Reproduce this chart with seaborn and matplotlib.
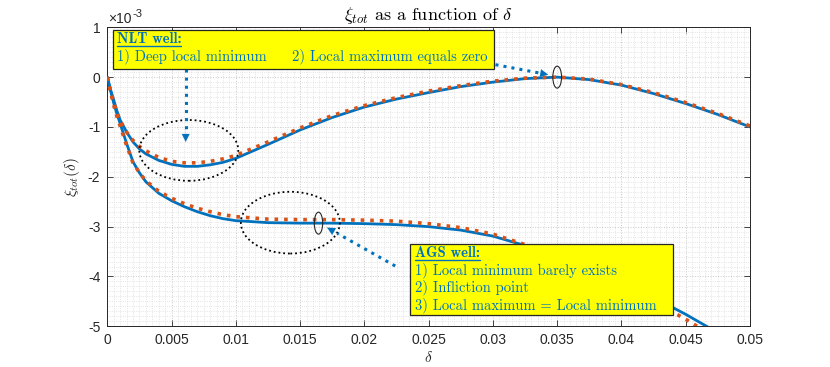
import numpy as np
import pandas as pd
import matplotlib
matplotlib.use('Agg')
import matplotlib.pyplot as plt
import seaborn as sns
from matplotlib.patches import Ellipse, Rectangle
from matplotlib.lines import Line2D
from matplotlib.ticker import MultipleLocator

# ==================================================================================================

# delta values and xi_tot (in units of 1e-3)
delta = [0, 0.00025, 0.0005, 0.00075, 0.001, 0.0015, 0.002, 0.0025, 0.003, 0.004, 0.005,
         0.006, 0.007, 0.008, 0.009, 0.010, 0.0125, 0.015, 0.0175, 0.020, 0.0225, 0.025,
         0.0275, 0.030, 0.0325, 0.035, 0.0375, 0.040, 0.0425, 0.045, 0.0475, 0.050]

nlt_exact = [0, -0.25, -0.46, -0.68, -0.86, -1.10, -1.30, -1.44, -1.54, -1.67, -1.75,
             -1.79, -1.79, -1.76, -1.71, -1.63, -1.35, -1.06, -0.81, -0.60, -0.44, -0.31,
             -0.19, -0.10, -0.03, 0.0, -0.05, -0.16, -0.33, -0.53, -0.75, -1.0]
nlt_approx = [0, -0.28, -0.50, -0.71, -0.88, -1.10, -1.27, -1.39, -1.48, -1.61, -1.69,
              -1.72, -1.72, -1.69, -1.64, -1.57, -1.30, -1.02, -0.77, -0.57, -0.41, -0.28,
              -0.17, -0.08, -0.02, 0.0, -0.04, -0.15, -0.31, -0.51, -0.73, -0.98]

ags_exact = [0, -0.27, -0.52, -0.74, -0.93, -1.33, -1.70, -1.92, -2.10, -2.33, -2.48,
             -2.60, -2.70, -2.78, -2.84, -2.88, -2.92, -2.93, -2.93, -2.94, -2.96, -3.00,
             -3.07, -3.19, -3.38, -3.60, -3.85, -4.12, -4.42, -4.76, -5.13, -5.55]
ags_approx = [0, -0.30, -0.56, -0.79, -0.98, -1.37, -1.72, -1.92, -2.08, -2.29, -2.43,
              -2.54, -2.63, -2.70, -2.76, -2.80, -2.85, -2.86, -2.86, -2.87, -2.89, -2.94,
              -3.02, -3.15, -3.36, -3.60, -3.87, -4.17, -4.50, -4.86, -5.25, -5.68]

xticks = [0, 0.005, 0.01, 0.015, 0.02, 0.025, 0.03, 0.035, 0.04, 0.045, 0.05]
xtick_labels = ['0', '0.005', '0.01', '0.015', '0.02', '0.025', '0.03', '0.035', '0.04', '0.045', '0.05']
yticks = [-5, -4, -3, -2, -1, 0, 1]

# ==================================================================================================

sns.set_style('ticks')
plt.rcParams['font.family'] = ['Liberation Sans', 'DejaVu Sans']
plt.rcParams['mathtext.fontset'] = 'cm'
plt.rcParams['axes.unicode_minus'] = False

BLUE = '#0072BD'
RED = '#D95319'
DARK = '#262626'

df = pd.DataFrame({'delta': delta, 'nlt_exact': nlt_exact, 'nlt_approx': nlt_approx,
                   'ags_exact': ags_exact, 'ags_approx': ags_approx})

W, H = 830, 367
fig = plt.figure(figsize=(W / 100, H / 100), dpi=100)
ax = fig.add_axes([107.3 / W, 1 - 326.3 / H, (750 - 107.3) / W, (326.3 - 27.3) / H])

sns.lineplot(data=df, x='delta', y='nlt_exact', ax=ax, color=BLUE, lw=2, zorder=3)
sns.lineplot(data=df, x='delta', y='ags_exact', ax=ax, color=BLUE, lw=2, zorder=3)
sns.lineplot(data=df, x='delta', y='nlt_approx', ax=ax, color=RED, lw=2.6, linestyle=':', zorder=4)
sns.lineplot(data=df, x='delta', y='ags_approx', ax=ax, color=RED, lw=2.6, linestyle=':', zorder=4)

ax.set_xlim(0, 0.05)
ax.set_ylim(-5, 1)
ax.set_xticks(xticks)
ax.set_xticklabels(xtick_labels)
ax.set_yticks(yticks)
ax.xaxis.set_minor_locator(MultipleLocator(0.0005))
ax.yaxis.set_minor_locator(MultipleLocator(0.1))
ax.tick_params(which='major', direction='in', length=4, width=0.6, colors=DARK,
               labelsize=10, top=True, right=True, pad=5)
ax.tick_params(which='minor', length=0, top=True, right=True)
ax.grid(which='major', color='#c8c8c8', linestyle=':', lw=0.7)
ax.grid(which='minor', color='#dcdcdc', linestyle=':', lw=0.6)
for sp in ax.spines.values():
    sp.set_color(DARK)
    sp.set_linewidth(0.7)

ax.set_xlabel(r'$\delta$', fontsize=11, color=DARK, labelpad=2)
ax.set_ylabel(r'$\xi_{tot}(\delta)$', fontsize=11, color=DARK, labelpad=4)
ax.set_title(r'$\xi_{tot}$ as a function of $\delta$', fontsize=13, family='cmr10',
             color='black', pad=5)

# x10^-3 factor
fig.text(108 / W, 1 - 23 / H, '×10', fontsize=10, color=DARK, va='baseline')
fig.text(132 / W, 1 - 17 / H, '-3', fontsize=8, color=DARK, va='baseline')

# ellipses
ax.add_patch(Ellipse((0.00634, -1.47), 0.0077, 1.22, fill=False, ls=':', lw=1.3, color='black', zorder=5))
ax.add_patch(Ellipse((0.01424, -2.92), 0.0077, 1.24, fill=False, ls=':', lw=1.3, color='black', zorder=5))
ax.add_patch(Ellipse((0.01643, -2.93), 0.00065, 0.44, fill=False, lw=0.8, color=DARK, zorder=5))
ax.add_patch(Ellipse((0.03500, 0.0), 0.00068, 0.44, fill=False, lw=0.8, color=DARK, zorder=5))

# arrows (dotted shaft + filled head)
arrows = [((0.0061, 0.16), (0.0061, -1.30)),
          ((0.0302, 0.25), (0.0343, 0.05)),
          ((0.0224, -3.79), (0.0171, -3.02))]
for (x0, y0), (x1, y1) in arrows:
    ax.plot([x0, x0 + 0.85 * (x1 - x0)], [y0, y0 + 0.85 * (y1 - y0)], color=BLUE, lw=2.2,
            ls=':', zorder=6)
    ax.annotate('', xy=(x1, y1), xytext=(x0 + 0.8 * (x1 - x0), y0 + 0.8 * (y1 - y0)),
                arrowprops=dict(arrowstyle='-|>', color=BLUE, lw=0.1, mutation_scale=14,
                                shrinkA=0, shrinkB=0), zorder=6)

# text boxes
ax.add_patch(Rectangle((0.00042, 0.161), 0.03011 - 0.00042, 0.936 - 0.161, facecolor='#FFFF00',
                       edgecolor=DARK, lw=0.9, zorder=7, clip_on=False))
ax.add_patch(Rectangle((0.02355, -4.779), 0.04399 - 0.02355, 4.779 - 3.347, facecolor='#FFFF00',
                       edgecolor=DARK, lw=0.9, zorder=7, clip_on=False))

tkw = dict(color=BLUE, fontsize=10.5, family='cmr10', va='baseline', zorder=8)
h1 = ax.text(0.00073, 0.689, 'NLT well:', **dict(tkw, family='cmb10'))
ax.text(0.00073, 0.327, '1) Deep local minimum', **tkw)
ax.text(0.01437, 0.327, '2) Local maximum equals zero', **tkw)

h2 = ax.text(0.02394, -3.602, 'AGS well:', **dict(tkw, family='cmb10'))
ax.text(0.02394, -3.956, '1) Local minimum barely exists', **tkw)
ax.text(0.02394, -4.305, '2) Infliction point', **tkw)
ax.text(0.02394, -4.653, '3) Local maximum = Local minimum', **tkw)

# underline the headers
fig.canvas.draw()
for h in (h1, h2):
    bb = h.get_window_extent()
    yy = (bb.y0 - 0.5) / H
    fig.add_artist(Line2D([bb.x0 / W, bb.x1 / W], [yy, yy], color=BLUE, lw=1.0, zorder=9))

fig.savefig('out.png', dpi=100)
